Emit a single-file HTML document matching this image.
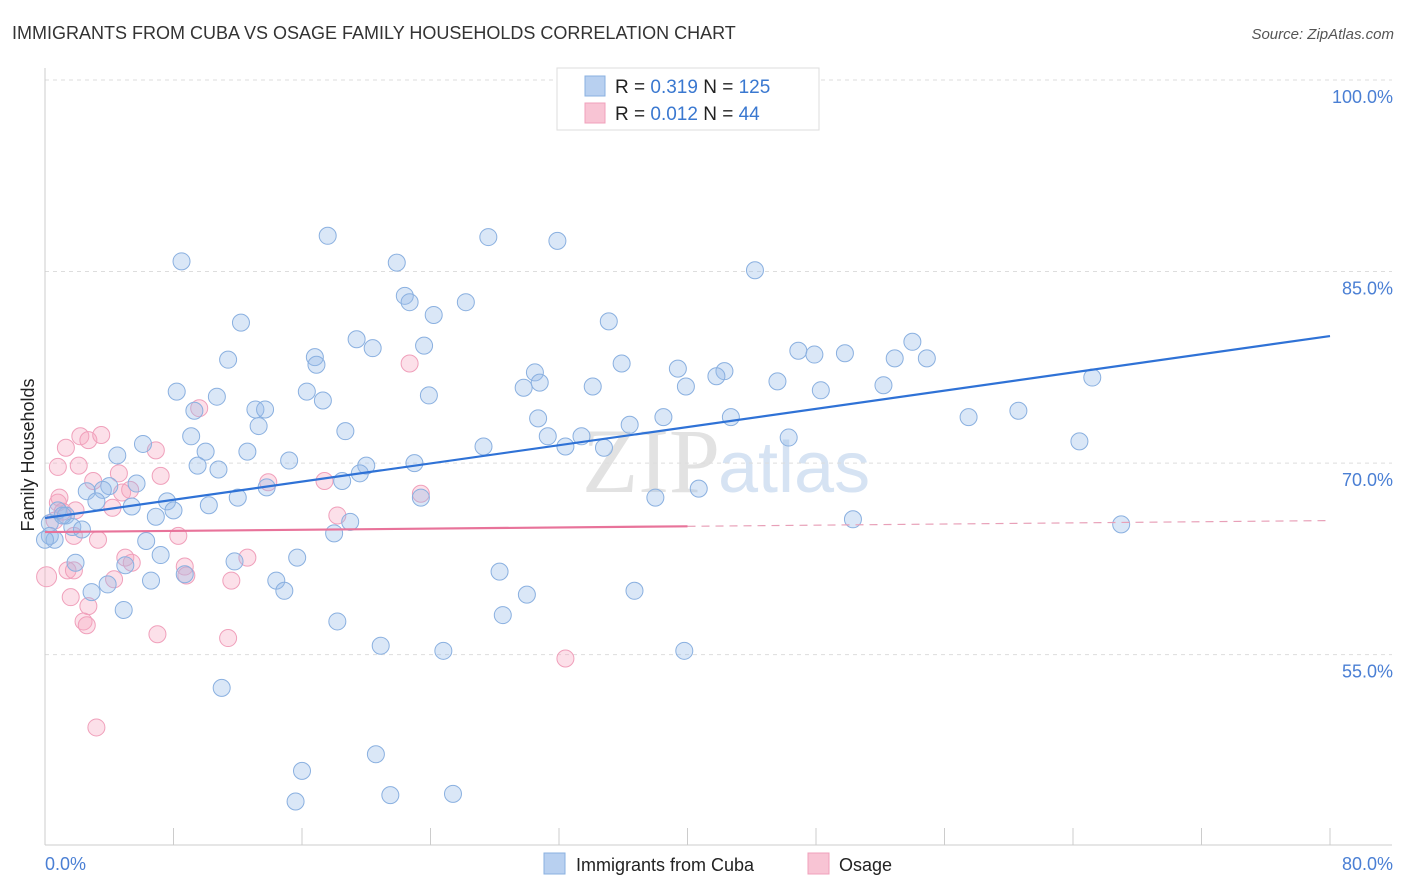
<!DOCTYPE html>
<html><head><meta charset="utf-8">
<style>
body{margin:0;background:#fff;font-family:"Liberation Sans",sans-serif;}
#wrap{position:relative;width:1406px;height:892px;overflow:hidden;}
</style></head>
<body>
<div id="wrap">
<svg id="chart" width="1406" height="892" xmlns="http://www.w3.org/2000/svg">
  <text x="12" y="39" font-size="18" fill="#333">IMMIGRANTS FROM CUBA VS OSAGE FAMILY HOUSEHOLDS CORRELATION CHART</text>
  <text x="1394" y="39" font-size="15" fill="#555" font-style="italic" text-anchor="end">Source: ZipAtlas.com</text>
  <text x="720" y="492" font-size="92" fill="#e2e2e2" text-anchor="end" font-family="Liberation Serif">ZIP</text>
  <text x="718" y="492" font-size="72" fill="#d6e3f3">atlas</text>
  <g id="grid"></g>
  <g id="axes"></g>
  <g id="points"></g>
  <g id="trends"></g>
  <text x="34" y="455" font-size="18" fill="#222" transform="rotate(-90 34 455)" text-anchor="middle">Family Households</text>
  <text x="45" y="870" font-size="18" fill="#4a7fd4" text-anchor="start">0.0%</text>
  <text x="1393" y="870" font-size="18" fill="#4a7fd4" text-anchor="end">80.0%</text>
  <g>
    <rect x="557" y="68" width="262" height="62" fill="#fff" stroke="#ddd"/>
    <rect x="585" y="76" width="20" height="20" fill="#b8d0f0" stroke="#8ab0e0"/>
    <rect x="585" y="103" width="20" height="20" fill="#f8c4d4" stroke="#f0a0bb"/>
    <text x="615" y="93" font-size="19" fill="#222">R = <tspan fill="#3a78d0">0.319</tspan>   N = <tspan fill="#3a78d0">125</tspan></text>
    <text x="615" y="120" font-size="19" fill="#222">R = <tspan fill="#3a78d0">0.012</tspan>   N =  <tspan fill="#3a78d0"> 44</tspan></text>
  </g>
  <g>
    <rect x="544" y="853" width="21" height="21" fill="#b8d0f0" stroke="#8ab0e0"/>
    <text x="576" y="871" font-size="18" fill="#222">Immigrants from Cuba</text>
    <rect x="808" y="853" width="21" height="21" fill="#f8c4d4" stroke="#f0a0bb"/>
    <text x="839" y="871" font-size="18" fill="#222">Osage</text>
  </g>
</svg>
</div>
<script>
const yTicks=[100,85,70,55];
const yTickLabels=["100.0%","85.0%","70.0%","55.0%"];
const xTickValues=[0,8,16,24,32,40,48,56,64,72,80];
const cubaX=[8.5,17.6,27.6,31.9,21.9,44.2,22.4,22.7,26.2,24.2,12.2,35.1,19.4,20.4,23.6,46.9,47.9,49.8,54.0,11.4,16.8,16.9,35.9,39.4,42.3,41.8,52.9,54.9,30.5,65.2,8.2,10.7,16.3,17.3,23.9,29.8,30.8,34.1,39.9,45.6,48.3,52.2,9.3,13.1,13.7,13.3,30.7,36.4,38.5,42.7,57.5,60.6,9.1,18.7,12.6,10.0,27.3,31.3,32.4,33.4,34.8,46.3,64.4,4.5,6.1,15.2,9.5,10.8,20.0,19.6,23.0,2.6,4.0,3.6,5.7,7.6,8.0,10.2,12.0,13.8,18.5,23.4,38.0,40.7,0.8,1.3,3.2,5.4,6.9,19.0,18.0,50.3,67.0,0.3,0.3,0.6,1.7,2.3,1.1,6.3,7.2,1.9,5.0,11.8,15.7,8.7,3.9,6.6,14.4,14.9,2.9,28.3,30.0,36.7,4.9,28.5,18.2,20.9,24.8,39.8,11.0,20.6,16.0,15.6,21.5,25.4,0.0];
const cubaY=[85.8,87.8,87.7,87.4,85.7,85.1,83.1,82.6,82.6,81.6,81.0,81.1,79.7,79.0,79.2,78.8,78.5,78.6,79.5,78.1,78.3,77.7,77.8,77.4,77.2,76.8,78.2,78.2,77.1,76.7,75.6,75.2,75.6,74.9,75.3,75.9,76.3,76.0,76.0,76.4,75.7,76.1,74.1,74.2,74.2,72.9,73.5,73.0,73.6,73.6,73.6,74.1,72.1,72.5,70.9,70.9,71.3,72.1,71.3,72.1,71.2,72.0,71.7,70.6,71.5,70.2,69.8,69.5,69.8,69.2,70.0,67.8,68.2,67.9,68.4,67.0,66.3,66.7,67.3,68.1,68.6,67.3,67.3,68.0,66.3,65.9,67.0,66.6,65.8,65.4,64.5,65.6,65.2,65.3,64.3,64.0,65.0,64.8,65.9,63.9,62.8,62.2,62.0,62.3,62.6,61.3,60.5,60.8,60.8,60.0,59.9,61.5,59.7,60.0,58.5,58.1,57.6,55.7,55.3,55.3,52.4,47.2,45.9,43.5,44.0,44.1,64.0];
const osageX=[0.1,0.6,0.8,0.9,1.1,1.3,0.8,2.2,2.1,2.7,3.5,3.0,3.3,1.8,1.9,1.4,1.8,1.6,2.7,2.4,2.6,4.6,4.8,5.3,4.2,5.0,5.4,4.3,6.9,7.2,7.0,8.3,8.7,8.8,9.6,13.9,12.6,11.6,11.4,17.4,18.2,22.7,23.4,32.4,3.2];
const osageY=[61.1,65.5,66.9,67.3,66.2,71.2,69.7,72.1,69.8,71.8,72.2,68.6,64.0,64.3,66.3,61.6,61.6,59.5,58.8,57.6,57.3,69.2,67.7,67.9,66.5,62.6,62.2,60.9,71.0,69.0,56.6,64.3,61.9,61.2,74.3,68.5,62.6,60.8,56.3,68.6,65.9,77.8,67.6,54.7,49.3];
const cubaTrend=[65.7,79.95];   // value at x=0, x=80
const osageTrend=[64.6,65.5];

const NS="http://www.w3.org/2000/svg";
const X0=45,X1=1330,YT=80,PX_PER=12.77;
function xs(v){return X0+(v/80)*(X1-X0);}
function ys(v){return YT+(100-v)*PX_PER;}
function mk(tag,attrs,parent){const e=document.createElementNS(NS,tag);for(const k in attrs)e.setAttribute(k,attrs[k]);parent.appendChild(e);return e;}

const grid=document.getElementById('grid');
yTicks.forEach((t,i)=>{
  const l=mk('line',{x1:X0,x2:1392,y1:ys(t),y2:ys(t),stroke:'#ddd','stroke-dasharray':'4,4'},grid);
  
  
  const tx=mk('text',{x:1393,y:ys(t)+23,'font-size':18,fill:'#4a7fd4','text-anchor':'end'},grid);
  tx.textContent=yTickLabels[i];
  
  
});
const axes=document.getElementById('axes');
const ya=mk('line',{x1:X0,x2:X0,y1:68,y2:845,stroke:'#ccc'},axes);


const xa=mk('line',{x1:X0,x2:1392,y1:845,y2:845,stroke:'#ccc'},axes);


xTickValues.forEach(v=>{
  const t=mk('line',{x1:xs(v),x2:xs(v),y1:828,y2:845,stroke:'#ccc'},axes);
  
  
});
const pts=document.getElementById('points');
osageX.forEach((x,i)=>{
  const c=mk('circle',{cx:xs(x),cy:ys(osageY[i]),r:i===0?10:8.5,fill:'rgba(245,165,192,0.35)',stroke:'#f0a0bb','stroke-width':1},pts);
  
  
});
cubaX.forEach((x,i)=>{
  const c=mk('circle',{cx:xs(x),cy:ys(cubaY[i]),r:8.5,fill:'rgba(150,185,232,0.35)',stroke:'#8ab0e0','stroke-width':1},pts);
  
  
});
const tr=document.getElementById('trends');
const bl=mk('line',{x1:xs(0),y1:ys(cubaTrend[0]),x2:xs(80),y2:ys(cubaTrend[1]),stroke:'#2f72d6','stroke-width':2.2},tr);


const om=osageTrend[0]+(osageTrend[1]-osageTrend[0])*0.5;
const pl=mk('line',{x1:xs(0),y1:ys(osageTrend[0]),x2:xs(40),y2:ys(om),stroke:'#e8739a','stroke-width':2.2},tr);


const pd=mk('line',{x1:xs(40),y1:ys(om),x2:xs(80),y2:ys(osageTrend[1]),stroke:'#e8a0b8','stroke-width':1.2,'stroke-dasharray':'8,6'},tr);


</script>
</body></html>
